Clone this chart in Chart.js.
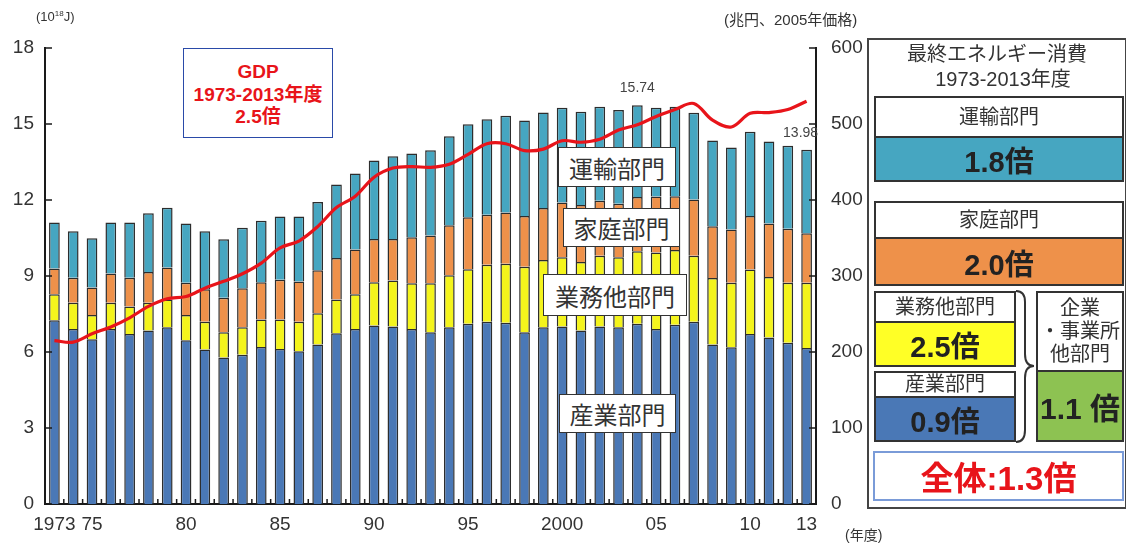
<!DOCTYPE html>
<html lang="ja">
<head>
<meta charset="utf-8">
<script src="https://cdn.jsdelivr.net/npm/chart.js@4.4.1/dist/chart.umd.min.js"></script>
<style>
  body { margin: 0; background: #fff; }
  #wrap { position: relative; width: 1126px; height: 545px; overflow: hidden;
          font-family: 'Liberation Sans', 'Noto Sans CJK JP', sans-serif; color: #333; }
  #chart { position: absolute; left: 0; top: 0; }
  .abs { position: absolute; box-sizing: border-box; }
  .tag { background: #fff; border: 1.5px solid #333; font-size: 24px; display: flex;
         align-items: center; justify-content: center; color: #333; }
  .unit { font-size: 15px; color: #333; white-space: nowrap; }
  .gdp { border: 1.5px solid #2a4aa8; background: #fff; color: #e8141a; font-weight: bold;
         font-size: 19px; text-align: center; line-height: 22.5px; padding-top: 12px; }
  .sec { border: 2px solid #333; display: flex; flex-direction: column; }
  .sec .hd { background: #fff; display: flex; align-items: center; justify-content: center;
             font-size: 20px; color: #333; border-bottom: 2px solid #333; text-align: center; line-height: 23px; }
  .sec .val { flex: 1; display: flex; align-items: center; justify-content: center;
              font-size: 29px; font-weight: bold; color: #222; }
</style>
</head>
<body>
<div id="wrap">
  <canvas id="chart" width="1126" height="545"></canvas>

  <div class="abs unit" style="left:36px;top:9px;font-size:13px;">(10<sup style="font-size:8px;">18</sup>J)</div>
  <div class="abs unit" style="left:724px;top:8px;">(兆円、2005年価格)</div>
  <div class="abs unit" style="left:845px;top:524px;font-size:14px;">(年度)</div>

  <div class="abs gdp" style="left:183px;top:48px;width:150px;height:90px;">GDP<br>1973-2013年度<br>2.5倍</div>

  <div class="abs tag" style="left:558px;top:147px;width:118px;height:40px;">運輸部門</div>
  <div class="abs tag" style="left:563px;top:208px;width:117px;height:39px;">家庭部門</div>
  <div class="abs tag" style="left:543px;top:274px;width:144px;height:42px;">業務他部門</div>
  <div class="abs tag" style="left:559px;top:394px;width:117px;height:39px;">産業部門</div>

  <!-- right summary panel -->
  <div class="abs" style="left:867px;top:38px;width:260px;height:471px;border:2px solid #444;"></div>
  <div class="abs" style="left:869px;top:42px;width:256px;text-align:center;font-size:20px;line-height:25px;color:#333;">
    最終エネルギー消費<br><span style="padding-left:12px;">1973-2013年度</span>
  </div>

  <div class="abs sec" style="left:874px;top:96px;width:250px;height:86px;">
    <div class="hd" style="height:38px;">運輸部門</div>
    <div class="val" style="background:#46a6c1;">1.8倍</div>
  </div>
  <div class="abs sec" style="left:874px;top:201px;width:250px;height:85px;">
    <div class="hd" style="height:34px;">家庭部門</div>
    <div class="val" style="background:#ee914a;">2.0倍</div>
  </div>
  <div class="abs sec" style="left:874px;top:291px;width:142px;height:76px;">
    <div class="hd" style="height:37px;">業務他部門</div>
    <div class="val" style="background:#ffff26;">2.5倍</div>
  </div>
  <div class="abs sec" style="left:874px;top:371px;width:142px;height:71px;">
    <div class="hd" style="height:35px;">産業部門</div>
    <div class="val" style="background:#4a78b6;">0.9倍</div>
  </div>
  <div class="abs sec" style="left:1036px;top:291px;width:88px;height:151px;">
    <div class="hd" style="height:77px;">企業<br>・事業所<br>他部門</div>
    <div class="val" style="background:#8dc252;font-size:30px;">1.1 倍</div>
  </div>
  <svg class="abs" style="left:1012px;top:286px;" width="26" height="162">
    <path d="M4 5 Q13 5 13 16 L13 68 Q13 80 22 80 Q13 80 13 92 L13 144 Q13 156 4 156"
          fill="none" stroke="#333" stroke-width="2"/>
  </svg>
  <div class="abs" style="left:873px;top:451px;width:251px;height:50px;border:2px solid #7a9bd8;
       display:flex;align-items:center;justify-content:center;color:#e8141a;font-weight:bold;font-size:33px;">全体:1.3倍</div>
</div>

<script>
// fiscal years on the x axis
const years = ['1973','1974','1975','1976','1977','1978','1979','1980','1981','1982',
  '1983','1984','1985','1986','1987','1988','1989','1990','1991','1992',
  '1993','1994','1995','1996','1997','1998','1999','2000','2001','2002',
  '2003','2004','2005','2006','2007','2008','2009','2010','2011','2012','2013'];
const xTickYears = ['1973','1975','1980','1985','1990','1995','2000','2005','2010','2013'];
const xTickText  = ['1973','75','80','85','90','95','2000','05','10','13'];

// final energy consumption by sector (10^18 J)
const industry = [7.25,6.91,6.50,6.91,6.71,6.85,6.98,6.46,6.10,5.78,
  5.89,6.20,6.12,6.03,6.30,6.74,6.91,7.05,7.01,6.91,
  6.78,6.98,7.12,7.19,7.15,6.78,6.98,7.01,6.85,7.01,
  6.98,7.12,6.91,7.08,7.19,6.30,6.19,6.71,6.57,6.37,6.16];
const business = [1.03,1.03,0.96,1.03,1.09,1.09,1.09,1.00,1.09,1.00,
  1.09,1.08,1.16,1.16,1.23,1.33,1.37,1.70,1.81,1.80,
  1.93,2.05,2.15,2.25,2.33,2.59,2.65,2.73,2.70,2.79,
  2.76,2.86,3.02,2.95,2.61,2.62,2.54,2.55,2.39,2.36,2.57];
const household = [1.02,0.99,1.09,1.16,1.13,1.22,1.27,1.27,1.29,1.36,
  1.54,1.47,1.57,1.59,1.70,1.64,1.77,1.71,1.64,1.82,
  1.89,1.97,2.05,1.98,2.03,2.00,2.05,2.16,2.25,2.17,
  2.11,2.14,2.21,2.12,2.22,2.04,2.11,2.11,2.11,2.14,1.96];
const transport = [1.81,1.84,1.94,2.01,2.18,2.32,2.35,2.34,2.29,2.31,
  2.38,2.43,2.50,2.57,2.69,2.90,3.00,3.10,3.27,3.31,
  3.36,3.52,3.67,3.77,3.82,3.77,3.77,3.74,3.68,3.71,
  3.70,3.62,3.50,3.53,3.42,3.39,3.23,3.32,3.24,3.27,3.29];

// real GDP (trillion yen, 2005 prices)
const gdp = [215,213,224,233,245,260,270,273,284,293,
  303,317,337,346,365,390,405,430,442,444,
  443,447,460,474,474,465,467,478,476,480,
  492,499,510,519,527,505,496,514,515,519,530];

// totals printed above these bars
const labelledYears = ['2004','2013'];
const labelShift = [0, -6];

const C = { ind: '#4a78b6', bus: '#f4f41c', hh: '#ee914a', tr: '#46a6c1', gdp: '#e8141a' };
const tickFont = { family: "'Liberation Sans', Arial, sans-serif", size: 19 };

const barSet = (label, data, color) => ({
  type: 'bar', label, data, backgroundColor: color, borderColor: '#2d2d2d', borderWidth: 1.5,
  stack: 'energy', yAxisID: 'y', order: 1, barPercentage: 0.57, categoryPercentage: 1
});

const decor = {
  id: 'decor',
  afterDraw(chart) {
    const { ctx, chartArea: a, scales: { x, y, y1 } } = chart;
    ctx.save();
    ctx.strokeStyle = '#1a1a1a';
    ctx.lineWidth = 1.5;
    ctx.beginPath();
    y.ticks.forEach(t => { const p = y.getPixelForValue(t.value); ctx.moveTo(a.left, p); ctx.lineTo(a.left + 7, p); });
    y1.ticks.forEach(t => { const p = y1.getPixelForValue(t.value); ctx.moveTo(a.right, p); ctx.lineTo(a.right - 7, p); });
    const half = (x.getPixelForValue(1) - x.getPixelForValue(0)) / 2;
    for (let i = 1; i < years.length; i++) {
      const p = x.getPixelForValue(i) - half;
      ctx.moveTo(p, a.bottom); ctx.lineTo(p, a.bottom - 5);
    }
    ctx.stroke();

    // totals above the labelled bars
    ctx.fillStyle = '#444';
    ctx.font = "14px 'Liberation Sans', Arial, sans-serif";
    ctx.textAlign = 'center';
    ctx.textBaseline = 'middle';
    labelledYears.forEach((yr, k) => {
      const i = years.indexOf(yr);
      const tot = industry[i] + business[i] + household[i] + transport[i];
      ctx.fillText(tot.toFixed(2), x.getPixelForValue(i) + labelShift[k], y.getPixelForValue(tot) - 17);
    });
    ctx.restore();
  }
};

new Chart(document.getElementById('chart'), {
  data: {
    labels: years,
    datasets: [
      { type: 'line', label: 'GDP', data: gdp, yAxisID: 'y1', borderColor: C.gdp, borderWidth: 3.2,
        pointRadius: 0, tension: 0.35, order: 0 },
      barSet('産業部門', industry, C.ind),
      barSet('業務他部門', business, C.bus),
      barSet('家庭部門', household, C.hh),
      barSet('運輸部門', transport, C.tr)
    ]
  },
  options: {
    responsive: false,
    animation: false,
    layout: { padding: { top: 48 } },
    plugins: { legend: { display: false }, tooltip: { enabled: false } },
    scales: {
      x: {
        stacked: true, offset: true,
        grid: { display: false, drawTicks: false },
        border: { display: true, color: '#1a1a1a', width: 2 },
        ticks: {
          autoSkip: false, maxRotation: 0, padding: 9, color: '#333', font: tickFont,
          callback: (v, i) => { const k = xTickYears.indexOf(years[i]); return k >= 0 ? xTickText[k] : ''; }
        },
        afterFit: s => { s.height = 41; }
      },
      y: {
        position: 'left', stacked: true, min: 0, max: 18,
        grid: { display: false, drawTicks: false },
        border: { display: true, color: '#1a1a1a', width: 2 },
        ticks: { stepSize: 3, padding: 11, color: '#333', font: tickFont },
        afterFit: s => { s.width = 45; }
      },
      y1: {
        position: 'right', min: 0, max: 600,
        grid: { display: false, drawTicks: false },
        border: { display: true, color: '#1a1a1a', width: 2 },
        ticks: { stepSize: 100, padding: 15, color: '#333', font: tickFont },
        afterFit: s => { s.width = 310; }
      }
    }
  },
  plugins: [decor]
});
</script>
</body>
</html>
